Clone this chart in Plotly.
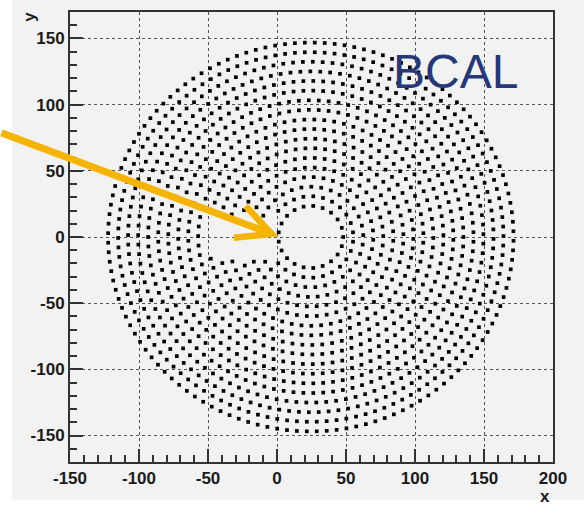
import numpy as np
import plotly.graph_objects as go

# ---- data ----
ring_center = [24.5, 0.0]
ring_radius = [23.5, 30.8, 38.0, 45.3, 52.5, 59.8, 67.1, 74.3, 81.6, 88.8,
               96.1, 103.3, 110.6, 117.9, 125.1, 132.4, 139.6, 146.9]
ring_count = [21, 27, 33, 40, 46, 52, 59, 65, 71, 77,
              84, 90, 97, 103, 109, 116, 122, 128]
ring_phase = [0.0, 0.5, 0.2, 0.7, 0.1, 0.6, 0.3, 0.8, 0.4, 0.9,
              0.2, 0.7, 0.0, 0.5, 0.3, 0.8, 0.1, 0.6]
ring_gap_deg = [0, 31, 25, 21, 18, 15.5, 14, 12.5, 0, 0,
                0, 0, 0, 0, 0, 0, 0, 0]
x_ticks = [-150, -100, -50, 0, 50, 100, 150, 200]
x_tick_labels = ["-150", "-100", "-50", "0", "50", "100", "150", "200"]
y_ticks = [-150, -100, -50, 0, 50, 100, 150]
y_tick_labels = ["-150", "-100", "-50", "0", "50", "100", "150"]
label_text = "BCAL"
arrow_tip = [1.0, 0.5]

xs, ys = [], []
for r, n, ph, gap in zip(ring_radius, ring_count, ring_phase, ring_gap_deg):
    ang = 2 * np.pi * (np.arange(n) + ph) / n
    d = np.abs(np.degrees(ang) - 180.0)
    keep = d >= gap if gap > 0 else np.ones(n, bool)
    xs.extend((ring_center[0] + r * np.cos(ang[keep])).tolist())
    ys.extend((ring_center[1] + r * np.sin(ang[keep])).tolist())

fig = go.Figure()
fig.add_trace(go.Scatter(
    x=xs, y=ys, mode="markers",
    marker=dict(symbol="square", size=3.7, color="black", line=dict(width=0)),
    hoverinfo="skip", showlegend=False))

FONT = "Liberation Sans, Arial, sans-serif"
axis_common = dict(
    showline=True, linecolor="#333333", linewidth=2, mirror=True,
    ticks="inside", ticklen=13, tickwidth=1.5, tickcolor="#333333",
    showgrid=True, gridcolor="#555555", griddash="dot", gridwidth=1,
    zeroline=False,
    tickfont=dict(family=FONT, size=17, color="#1a1a1a"),
    minor=dict(ticks="inside", dtick=10, ticklen=7, tickwidth=1.5,
               tickcolor="#333333", showgrid=False),
)

fig.update_layout(
    width=584, height=506,
    margin=dict(l=70, r=31, t=10, b=44),
    paper_bgcolor="white",
    plot_bgcolor="rgba(0,0,0,0)",
    xaxis=dict(range=[-150, 200], tickvals=x_ticks,
               ticktext=["<b>%s</b>" % t for t in x_tick_labels], **axis_common),
    yaxis=dict(range=[-170, 170], tickvals=y_ticks,
               ticktext=["<b>%s</b>" % t for t in y_tick_labels], **axis_common),
    shapes=[dict(type="rect", xref="paper", yref="paper",
                 x0=-0.12, x1=1.07, y0=-0.084, y1=1.03,
                 fillcolor="#f2f2f2", line=dict(width=0), layer="below")],
    annotations=[
        dict(x=129, y=125, xref="x", yref="y", text=label_text,
             showarrow=False, xanchor="center", yanchor="middle",
             font=dict(family=FONT, size=48, color="#27387a")),
        dict(x=0.983, y=-0.077, xref="paper", yref="paper", text="<b>x</b>",
             showarrow=False, xanchor="center", yanchor="middle",
             font=dict(family=FONT, size=17, color="#1a1a1a")),
        dict(x=-0.083, y=0.989, xref="paper", yref="paper", text="<b>y</b>",
             showarrow=False, xanchor="center", yanchor="middle",
             textangle=-90,
             font=dict(family=FONT, size=17, color="#1a1a1a")),
        dict(x=arrow_tip[0], y=arrow_tip[1], xref="x", yref="y", text="",
             showarrow=True, ax=-280, ay=-104, axref="pixel", ayref="pixel",
             arrowhead=5, arrowsize=0.95, arrowwidth=7, arrowcolor="#f5b400"),
    ],
)

fig.write_html("out.html")
